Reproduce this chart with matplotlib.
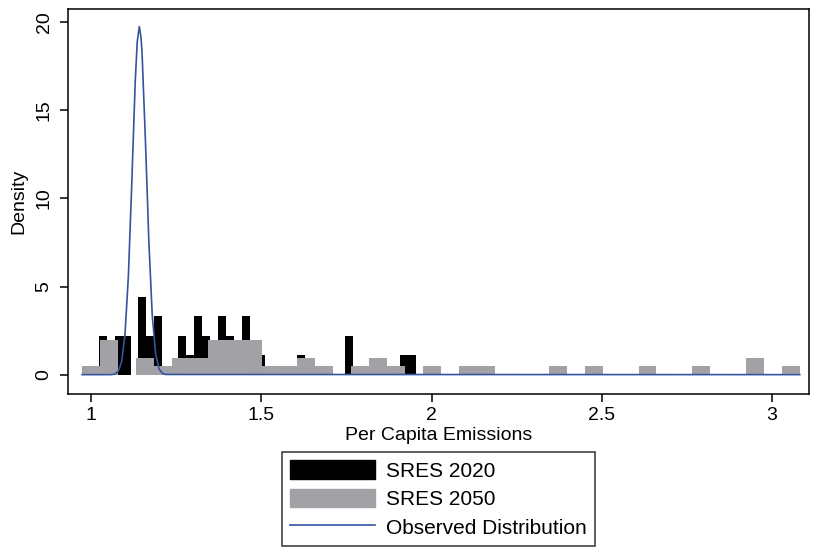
import numpy as np
import matplotlib
matplotlib.use("Agg")
from matplotlib import pyplot as plt
from matplotlib.patches import Patch
from matplotlib.lines import Line2D

plt.rcParams['font.family'] = ['Liberation Sans', 'DejaVu Sans']

# SRES 2020 histogram (density), 40 bins
start_2020 = 1.023
width_2020 = 0.0233
dens_2020 = [2.2, 1.1, 2.2, 2.2, 0, 4.4, 2.2, 3.3, 0, 0,
             2.2, 1.1, 3.3, 2.2, 1.1, 3.3, 2.2, 0, 3.3, 1.1,
             1.1, 0, 0, 0, 0, 1.1, 0, 0, 0, 0,
             0, 2.2, 0, 0, 0, 0, 0, 0, 1.1, 1.1]

# SRES 2050 histogram (density), 40 bins
start_2050 = 0.974
width_2050 = 0.0527
dens_2050 = [0.49, 1.95, 0, 0.97, 0.49, 0.97, 0.97, 1.95, 1.95, 1.95,
             0.49, 0.49, 0.97, 0.49, 0, 0.49, 0.97, 0.49, 0, 0.49,
             0, 0.49, 0.49, 0, 0, 0, 0.49, 0, 0.49, 0,
             0, 0.49, 0, 0, 0.49, 0, 0, 0.97, 0, 0.49]

# observed distribution
obs_x = [0.974, 1.06, 1.07, 1.08, 1.09, 1.10, 1.11, 1.12, 1.13, 1.136,
         1.142, 1.147, 1.15, 1.16, 1.17, 1.18, 1.19, 1.20, 1.21, 1.22, 3.081]
obs_y = [0, 0, 0.03, 0.18, 0.72, 2.27, 5.6, 10.9, 16.6, 18.9,
         19.75, 19.15, 18.3, 13.3, 7.6, 3.37, 1.17, 0.32, 0.07, 0.01, 0]

BLACK = '#000000'
GRAY = '#a2a2a6'
BLUE = '#34549e'

fig = plt.figure(figsize=(8.13, 5.5), dpi=100)
ax = fig.add_axes([0.0836, 0.2836, 0.9114, 0.7])

edges_2020 = start_2020 + width_2020 * np.arange(len(dens_2020) + 1)
edges_2050 = start_2050 + width_2050 * np.arange(len(dens_2050) + 1)

ax.stairs(dens_2020, edges_2020, fill=True, color=BLACK, linewidth=0)
ax.stairs(dens_2050, edges_2050, fill=True, color=GRAY, linewidth=0)
ax.plot(obs_x, obs_y, color=BLUE, linewidth=1.2)

ax.set_xlim(0.9326, 3.108)
ax.set_ylim(-1.1, 20.75)
ax.set_xticks([1, 1.5, 2, 2.5, 3])
ax.set_xticklabels(['1', '1.5', '2', '2.5', '3'])
ax.set_yticks([0, 5, 10, 15, 20])
ax.set_yticklabels(['0', '5', '10', '15', '20'], rotation=90, va='center')

ax.tick_params(direction='out', length=6, width=1.1, labelsize=14, colors='black')
ax.tick_params(axis='y', pad=5)
for s in ax.spines.values():
    s.set_linewidth(1.1)
    s.set_color('black')

ax.set_xlabel('Per Capita Emissions', fontsize=14, labelpad=2)
ax.set_ylabel('Density', fontsize=14, labelpad=6)

handles = [Patch(facecolor=BLACK, edgecolor=BLACK),
           Patch(facecolor=GRAY, edgecolor=GRAY),
           Line2D([0], [0], color=BLUE, linewidth=1.2)]
labels = ['SRES 2020', 'SRES 2050', 'Observed Distribution']
leg = fig.legend(handles, labels, loc='upper center', bbox_to_anchor=(0.539, 0.178),
                 fontsize=15, frameon=True, fancybox=False, edgecolor='black',
                 handlelength=4.1, handleheight=1.0, handletextpad=0.5,
                 labelspacing=0.38, borderpad=0.4, borderaxespad=0)
leg.get_frame().set_linewidth(1.1)

fig.savefig('out.png', dpi=100)
